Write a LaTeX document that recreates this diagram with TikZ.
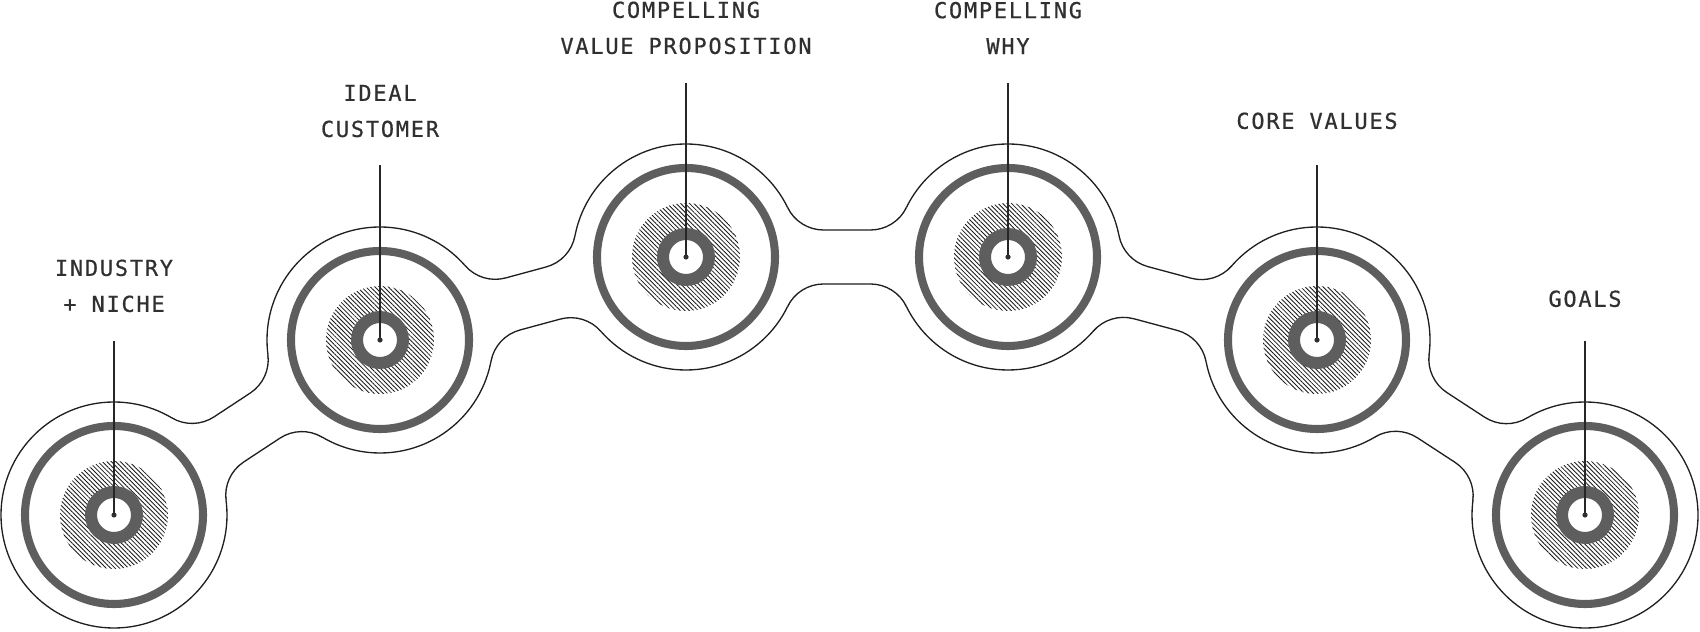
\documentclass[tikz,border=0pt]{standalone}
\usepackage{xcolor}
\usepackage{fontspec}
\usepackage{tikz}
\usetikzlibrary{positioning,patterns.meta}
\newfontfamily\labelfont[LetterSpace=8,FakeBold=0.6]{DejaVu Sans Mono}
\definecolor{inkgray}{RGB}{48,48,48}
\definecolor{ringgray}{RGB}{94,94,94}

\tikzset{
  rim/.style={draw=black!88, line width=0.75pt},
  bigring/.style={draw=ringgray, line width=4.6pt},
  smallring/.style={draw=ringgray, line width=6.8pt, fill=white},
  hatch/.style={pattern={Lines[angle=-45,distance=1.8pt,line width=0.48pt]}, pattern color=black!90},
  leader/.style={draw=black!85, line width=0.65pt},
  lab/.style={font={\labelfont\fontsize{12.5pt}{20.5pt}\selectfont}, text=inkgray, align=center, inner sep=0pt},
}

% neck between two rims, local frame along the centre line
\newcommand\neck[4]{%
  \pgfmathsetmacro\nang{atan2(#4-#2,#3-#1)}%
  \pgfmathsetmacro\nlen{veclen(#3-#1,#4-#2)}%
  \begin{scope}[shift={(#1,#2)}, rotate=\nang]
    \fill[white] (0,0) -- (101.59,49.48)
      arc[start angle=205.97, end angle=270, radius=40] -- (\nlen-137.55,27)
      arc[start angle=270, end angle=334.03, radius=40] -- (\nlen,0)
      -- (\nlen-101.59,-49.48)
      arc[start angle=25.97, end angle=90, radius=40] -- (137.55,-27)
      arc[start angle=90, end angle=154.03, radius=40] -- cycle;
    \draw[rim] (101.59,49.48)
      arc[start angle=205.97, end angle=270, radius=40] -- (\nlen-137.55,27)
      arc[start angle=270, end angle=334.03, radius=40];
    \draw[rim] (101.59,-49.48)
      arc[start angle=154.03, end angle=90, radius=40] -- (\nlen-137.55,-27)
      arc[start angle=90, end angle=25.97, radius=40];
  \end{scope}}

\begin{document}
\begin{tikzpicture}[x=0.02cm, y=0.02cm]
  \useasboundingbox (0,0) rectangle (1700,632);

  \coordinate (c1) at (114,117);
  \coordinate (c2) at (380,292);
  \coordinate (c3) at (686,375);
  \coordinate (c4) at (1008,375);
  \coordinate (c5) at (1317,292);
  \coordinate (c6) at (1585,117);

  \foreach \i in {1,...,6}
    \draw[rim] (c\i) circle[radius=113];

  \foreach \xa/\ya/\xb/\yb in {114/117/380/292, 380/292/686/375, 686/375/1008/375,
      1008/375/1317/292, 1317/292/1585/117}
    \neck{\xa}{\ya}{\xb}{\yb};

  \foreach \i in {1,...,6} {
    \fill[hatch] (c\i) circle[radius=54];
    \draw[bigring] (c\i) circle[radius=89];
    \draw[smallring] (c\i) circle[radius=23];
  }

  % leader tops
  \coordinate (t1) at (114,291);
  \coordinate (t2) at (380,467);
  \coordinate (t3) at (686,549);
  \coordinate (t4) at (1008,549);
  \coordinate (t5) at (1317,467);
  \coordinate (t6) at (1585,291);

  \node[lab, above=16.2pt of t1] (l1) {INDUSTRY\\+ NICHE};
  \node[lab, above=15.6pt of t2] (l2) {IDEAL\\CUSTOMER};
  \node[lab, above=16.2pt of t3] (l3) {COMPELLING\\VALUE PROPOSITION};
  \node[lab, above=16.2pt of t4] (l4) {COMPELLING\\WHY};
  \node[lab, above=20.2pt of t5] (l5) {CORE VALUES};
  \node[lab, above=19.1pt of t6] (l6) {GOALS};

  \foreach \i in {1,...,6} {
    \draw[leader] (t\i) -- (c\i);
    \fill[inkgray] (c\i) circle[radius=2.6];
  }
\end{tikzpicture}
\end{document}
